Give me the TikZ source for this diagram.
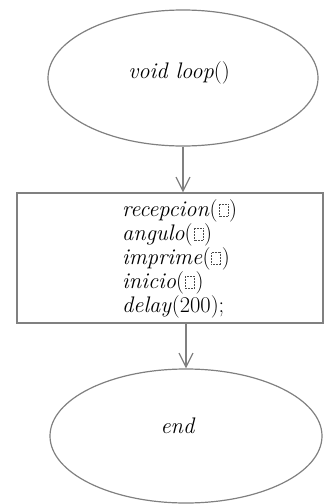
\documentclass[tikz,border=0pt]{standalone}
\usetikzlibrary{arrows.meta,shapes.geometric}
\newcommand\phbox{\kern1pt\tikz[baseline=0pt]\draw[densely dotted,line width=0.5pt,black!70] (0pt,0pt) rectangle (9pt,12pt);\kern1pt}
\definecolor{linegray}{RGB}{128,128,128}
\tikzset{
  oval/.style={ellipse,draw=linegray,line width=1.2pt,inner sep=0pt},
  procbox/.style={rectangle,draw=linegray,line width=1.2pt,inner sep=0pt,minimum width=306pt,minimum height=130pt},
  txt/.style={font=\fontsize{22.5}{24}\selectfont,text=black,inner sep=0pt},
  arr/.style={draw=linegray,line width=1.2pt,-{Straight Barb[length=14pt,width=14pt,line width=1.2pt]}}
}
\begin{document}
\begin{tikzpicture}[x=1pt,y=-1pt]
\useasboundingbox (0,0) rectangle (334,504);
\node[oval,minimum width=270pt,minimum height=136pt] (top) at (183,78) {};
\node[txt] (toptext) at (179,73) {\textit{void loop}()};
\node[procbox] (box) at (170,258) {};
\node[txt,anchor=west,align=left] (boxtext) at (122,258.5) {%
\textit{recepcion}(\phbox)\\
\textit{angulo}(\phbox)\\
\textit{imprime}(\phbox)\\
\textit{inicio}(\phbox)\\
\textit{delay}(200);};
\node[oval,minimum width=272pt,minimum height=134pt] (bot) at (186,436) {};
\node[txt] (bottext) at (178,426) {\textit{end}};
\draw[arr] (top.south) -- (top.south |- box.north);
\draw[arr] (box.south -| bot.north) -- (bot.north);
\end{tikzpicture}
\end{document}
